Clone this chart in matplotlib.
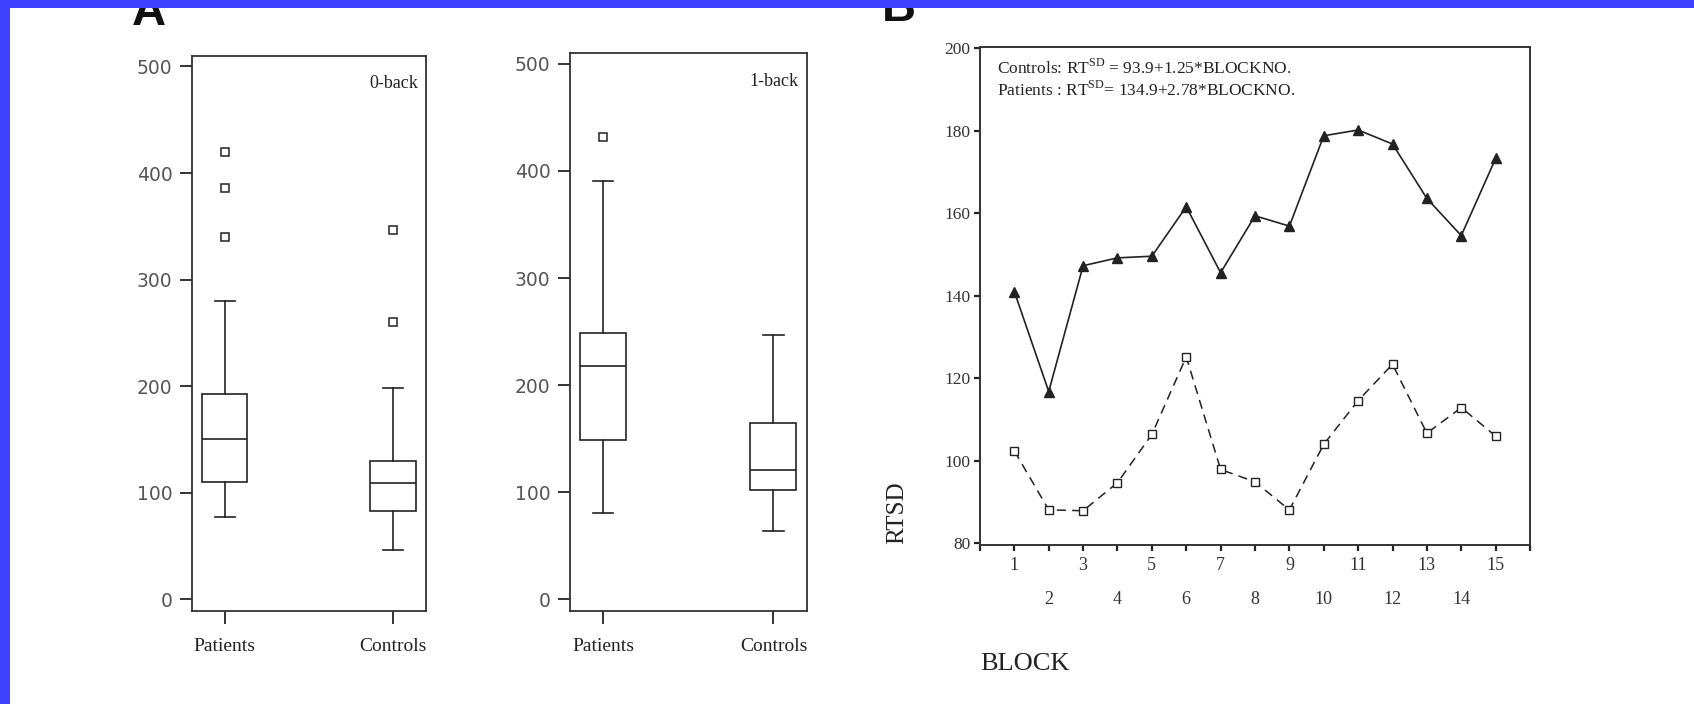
import matplotlib
matplotlib.use('Agg')
import matplotlib.pyplot as plt
from matplotlib.patches import Rectangle

plt.rcParams['font.family'] = ['Liberation Serif', 'DejaVu Serif']
plt.rcParams['mathtext.fontset'] = 'custom'
plt.rcParams['mathtext.rm'] = 'Liberation Serif'

# Panel A - box plot summaries (RT SD in ms)
groups = ['Patients', 'Controls']

back0_q1 = [110, 83]
back0_med = [151, 109]
back0_q3 = [193, 130]
back0_lo = [77, 46]
back0_hi = [280, 198]
back0_out = [[340, 386, 420], [260, 347]]

back1_q1 = [149, 102]
back1_med = [218, 121]
back1_q3 = [249, 165]
back1_lo = [81, 64]
back1_hi = [391, 247]
back1_out = [[432], []]

# Panel B - RT SD per block
blocks = list(range(1, 16))
patients_sd = [141.0, 116.8, 147.3, 149.2, 149.6, 161.6, 145.6, 159.4,
               156.9, 178.8, 180.2, 176.8, 163.6, 154.6, 173.3]
controls_sd = [102.4, 88.1, 87.9, 94.7, 106.4, 125.2, 97.9, 94.9,
               88.1, 104.0, 114.6, 123.4, 106.7, 112.9, 106.0]

ink = '#222222'

fig = plt.figure(figsize=(16.94, 7.04), dpi=100)
fig.patch.set_facecolor('white')


def make_stats(q1, med, q3, lo, hi, out):
    stats = []
    for i in range(len(groups)):
        stats.append(dict(label=groups[i], q1=q1[i], med=med[i], q3=q3[i],
                          whislo=lo[i], whishi=hi[i], fliers=out[i]))
    return stats


def box_panel(ax, stats, tag):
    ax.bxp(stats, positions=[1, 2], widths=0.27, capwidths=0.12,
           patch_artist=True,
           boxprops=dict(facecolor='white', edgecolor=ink, linewidth=1.2),
           whiskerprops=dict(color=ink, linewidth=1.2),
           capprops=dict(color=ink, linewidth=1.2),
           medianprops=dict(color=ink, linewidth=1.2),
           flierprops=dict(marker='s', markerfacecolor='white',
                           markeredgecolor=ink, markersize=5.5,
                           markeredgewidth=1.1))
    ax.set_xlim(0.805, 2.195)
    ax.set_ylim(-10.4, 510)
    ax.set_yticks([0, 100, 200, 300, 400, 500])
    for lbl in ax.get_yticklabels():
        lbl.set_fontfamily('DejaVu Sans')
    ax.tick_params(axis='y', length=9, width=1.4, pad=5, labelsize=13.5,
                   labelcolor='#555555', color='#333333')
    ax.tick_params(axis='x', length=9, width=1.4, pad=11, labelsize=14,
                   labelcolor=ink, color='#333333')
    for s in ax.spines.values():
        s.set_linewidth(1.3)
        s.set_color('#333333')
    ax.text(0.965, 0.965, tag, transform=ax.transAxes, ha='right', va='top',
            fontsize=13, color=ink)


# Begin panel A, 0-back
ax1 = fig.add_axes([0.1132, 0.1327, 0.1383, 0.788])
box_panel(ax1, make_stats(back0_q1, back0_med, back0_q3, back0_lo, back0_hi, back0_out), '0-back')

# Panel A, 1-back
ax2 = fig.add_axes([0.3365, 0.1327, 0.1397, 0.792])
box_panel(ax2, make_stats(back1_q1, back1_med, back1_q3, back1_lo, back1_hi, back1_out), '1-back')

# Begin panel B
ax3 = fig.add_axes([0.5785, 0.2259, 0.3247, 0.7078])
ax3.plot(blocks, patients_sd, '-', color=ink, linewidth=1.2, marker='^',
         markersize=6.5, markerfacecolor=ink, markeredgecolor=ink)
ax3.plot(blocks, controls_sd, color=ink, linewidth=1.1, dashes=(6, 4),
         marker='s', markersize=6, markerfacecolor='white',
         markeredgecolor=ink, markeredgewidth=1.0)
ax3.set_xlim(0, 16)
ax3.set_ylim(79.6, 200.4)
ax3.set_yticks([80, 100, 120, 140, 160, 180, 200])

odd = [0] + [b for b in blocks if b % 2 == 1] + [16]
odd_lbl = [''] + [str(b) for b in blocks if b % 2 == 1] + ['']
even = [b for b in blocks if b % 2 == 0]
ax3.set_xticks(odd, odd_lbl)
ax3.set_xticks(even, [str(b) for b in even], minor=True)
ax3.tick_params(axis='x', which='both', direction='out', length=4, width=1.6,
                labelsize=13, labelcolor='#333333', color=ink)
ax3.tick_params(axis='x', which='major', pad=5)
ax3.tick_params(axis='x', which='minor', pad=29)
ax3.tick_params(axis='y', length=4, width=1.6, pad=3, labelsize=12.5,
                labelcolor='#333333', color=ink)
for s in ax3.spines.values():
    s.set_linewidth(1.4)
    s.set_color('#333333')

fig.text(996.7 / 1694, 1 - 74 / 704,
         r'Controls: RT$^{\mathrm{SD}}$ = 93.9+1.25*BLOCKNO.',
         fontsize=12.5, color=ink, va='baseline', ha='left')
fig.text(996.7 / 1694, 1 - 96 / 704,
         r'Patients : RT$^{\mathrm{SD}}$= 134.9+2.78*BLOCKNO.',
         fontsize=12.5, color=ink, va='baseline', ha='left')

fig.text(897.5 / 1694, 1 - 513 / 704, 'RTSD', rotation=90, fontsize=18,
         color=ink, ha='center', va='center')
fig.text(980 / 1694, 1 - 664 / 704, 'BLOCK', fontsize=19, color=ink,
         ha='left', va='center')

# panel letters, partly hidden by the blue frame
fig.text(132 / 1694, 1 - 25 / 704, 'A', fontsize=34, fontweight='bold',
         family='Liberation Sans', color='#111111', va='baseline')
fig.text(882 / 1694, 1 - 21 / 704, 'B', fontsize=34, fontweight='bold',
         family='Liberation Sans', color='#111111', va='baseline')

# blue slide frame
fig.add_artist(Rectangle((0, 1 - 7.5 / 704), 1, 7.5 / 704, transform=fig.transFigure,
                         facecolor='#4040FF', edgecolor='none', zorder=10))
fig.add_artist(Rectangle((0, 0), 10 / 1694, 1, transform=fig.transFigure,
                         facecolor='#4040FF', edgecolor='none', zorder=10))

fig.savefig('out.png', dpi=100)
